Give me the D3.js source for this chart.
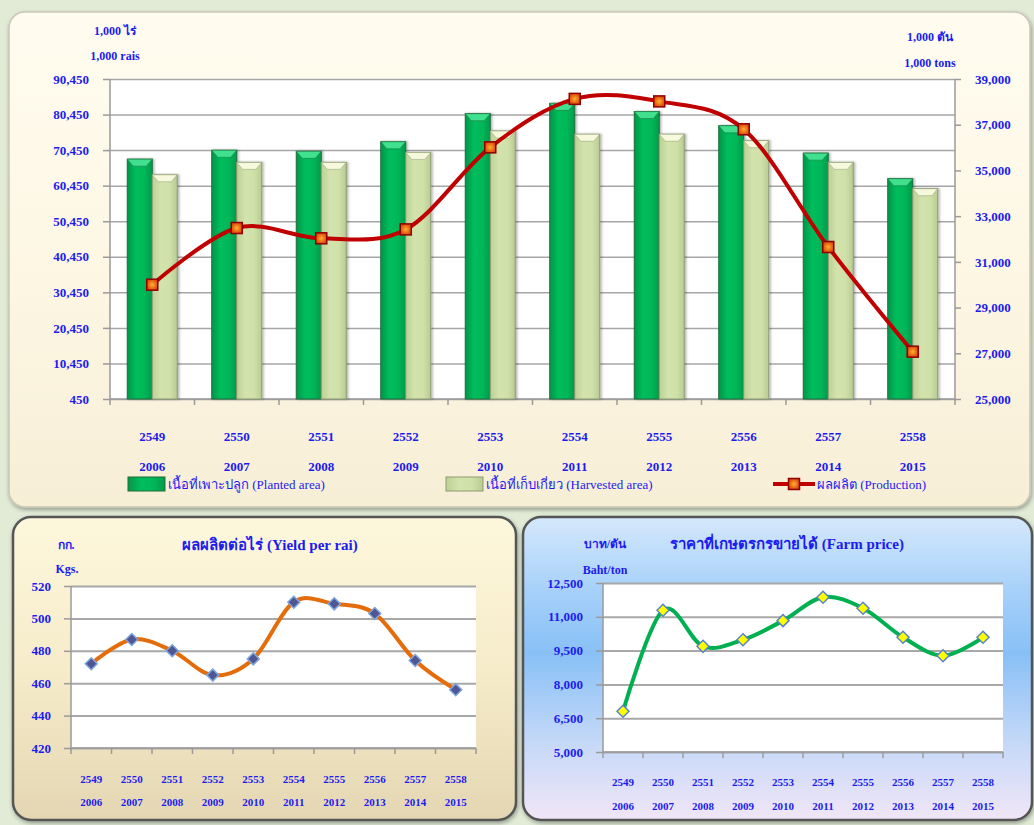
<!DOCTYPE html>
<html lang="th">
<head>
<meta charset="UTF-8">
<title>Planted area, harvested area, production, yield and farm price</title>
<script src="https://d3js.org/d3.v7.min.js"></script>
<style>
    body {
        margin: 0;
        padding: 0;
        background: #e1ebd6;
        overflow: hidden;
    }
    svg { display: block; }
    .lbl {
        font-family: "Liberation Serif", "Times New Roman", "DejaVu Serif", serif;
        font-weight: bold;
        fill: #1c1cf0;
    }
    .legend-text {
        font-family: "Liberation Serif", "Times New Roman", serif;
        font-size: 13px;
        fill: #1c1cf0;
    }
    .grid line { stroke: #a6a6a6; stroke-width: 1.5px; }
    .grid path { display: none; }
    .axis path, .axis line { stroke: #9a9a9a; stroke-width: 1.5px; }
    .axis text {
        font-family: "Liberation Serif", "Times New Roman", serif;
        font-weight: bold;
        fill: #1c1cf0;
    }
</style>
</head>
<body>
<script>
    // ---- data ----
    const beYears = ["2549", "2550", "2551", "2552", "2553", "2554", "2555", "2556", "2557", "2558"];
    const ceYears = ["2006", "2007", "2008", "2009", "2010", "2011", "2012", "2013", "2014", "2015"];

    const plantedArea   = [67900, 70400, 70100, 72800, 80700, 83600, 81300, 77300, 69600, 62400];
    const harvestedArea = [63500, 67000, 67000, 69800, 75800, 74900, 74900, 73100, 67000, 59600];
    const production    = [30000, 32480, 32030, 32420, 36010, 38130, 38020, 36800, 31650, 27070];

    const yieldPerRai = [472, 487, 480, 465, 475, 510, 509, 503, 474, 456];
    const farmPrice   = [6810, 11290, 9690, 9980, 10830, 11870, 11380, 10090, 9270, 10090];

    const areaTicks  = [450, 10450, 20450, 30450, 40450, 50450, 60450, 70450, 80450, 90450];
    const prodTicks  = [25000, 27000, 29000, 31000, 33000, 35000, 37000, 39000];
    const yieldTicks = [420, 440, 460, 480, 500, 520];
    const priceTicks = [5000, 6500, 8000, 9500, 11000, 12500];

    const width = 1034, height = 825;
    const fmt = d3.format(",");

    const svg = d3.select("body").append("svg")
        .attr("width", width)
        .attr("height", height);

    const defs = svg.append("defs");

    function linGrad(id, stops, vertical) {
        const g = defs.append("linearGradient").attr("id", id)
            .attr("x1", 0).attr("y1", 0)
            .attr("x2", vertical ? 0 : 1).attr("y2", vertical ? 1 : 0);
        stops.forEach(s => g.append("stop").attr("offset", s[0]).attr("stop-color", s[1]));
    }

    linGrad("topPanel", [[0, "#fffcf0"], [0.5, "#fdf7e4"], [1, "#f7eed6"]], true);
    linGrad("leftPanel", [[0, "#fdf7dc"], [0.5, "#f6ecca"], [1, "#e4d6b2"]], true);
    linGrad("rightPanel", [[0, "#d5e8fb"], [0.25, "#a5d0fa"], [0.45, "#88c0f6"], [0.75, "#c6d9f8"], [1, "#f1e6f7"]], true);
    linGrad("plantedGrad", [[0, "#07954a"], [0.35, "#00bd5c"], [0.7, "#00b658"], [1, "#049a4a"]], false);
    linGrad("harvestGrad", [[0, "#bdd095"], [0.35, "#d2e3ad"], [0.7, "#cfe0a8"], [1, "#b9cb92"]], false);

    const rg = defs.append("radialGradient").attr("id", "prodMarker");
    rg.append("stop").attr("offset", 0).attr("stop-color", "#ffb030");
    rg.append("stop").attr("offset", 1).attr("stop-color", "#dd4a08");

    const sh = defs.append("filter").attr("id", "shadow")
        .attr("x", "-10%").attr("y", "-10%").attr("width", "120%").attr("height", "120%");
    sh.append("feDropShadow").attr("dx", 1).attr("dy", 2).attr("stdDeviation", 2)
        .attr("flood-color", "#000").attr("flood-opacity", 0.35);

    const barShadow = defs.append("filter").attr("id", "barShadow")
        .attr("x", "-20%").attr("y", "-5%").attr("width", "150%").attr("height", "110%");
    barShadow.append("feDropShadow").attr("dx", 1.5).attr("dy", 0).attr("stdDeviation", 1.2)
        .attr("flood-color", "#000").attr("flood-opacity", 0.3);

    // ---- panels ----
    svg.append("rect").attr("x", 9).attr("y", 12).attr("width", 1021).attr("height", 495)
        .attr("rx", 16).attr("fill", "url(#topPanel)")
        .attr("stroke", "#c9c6b8").attr("stroke-width", 1.5).attr("filter", "url(#shadow)");
    svg.append("rect").attr("x", 13).attr("y", 517).attr("width", 503).attr("height", 303)
        .attr("rx", 18).attr("fill", "url(#leftPanel)")
        .attr("stroke", "#555").attr("stroke-width", 2.5).attr("filter", "url(#shadow)");
    svg.append("rect").attr("x", 523).attr("y", 517).attr("width", 509).attr("height", 303)
        .attr("rx", 18).attr("fill", "url(#rightPanel)")
        .attr("stroke", "#555").attr("stroke-width", 2.5).attr("filter", "url(#shadow)");

    function text(x, y, str, size, anchor, cls) {
        return svg.append("text").attr("class", cls || "lbl")
            .attr("x", x).attr("y", y).attr("dy", "0.35em")
            .attr("text-anchor", anchor || "middle")
            .style("font-size", size + "px").text(str);
    }

    // category labels below a band scale, plus boundary tick marks
    function categoryAxis(x, yBase, y1, y2, size) {
        const g = svg.append("g").attr("class", "axis");
        const edges = d3.range(beYears.length + 1).map(i => x.range()[0] + i * x.step());
        g.selectAll("line.tk").data(edges).enter().append("line")
            .attr("x1", d => d).attr("x2", d => d)
            .attr("y1", yBase).attr("y2", yBase + 6);
        g.append("line").attr("x1", x.range()[0]).attr("x2", x.range()[1])
            .attr("y1", yBase).attr("y2", yBase);
        beYears.forEach((b, i) => {
            const cx = x(b) + x.bandwidth() / 2;
            text(cx, y1, b, size);
            text(cx, y2, ceYears[i], size);
        });
    }

    // ================= TOP CHART =================
    const plot = { left: 110, right: 955, top: 79, bottom: 399 };
    const x1 = d3.scaleBand().domain(beYears).range([plot.left, plot.right]).padding(0);
    const yArea = d3.scaleLinear().domain([450, 90450]).range([plot.bottom, plot.top]);
    const yProd = d3.scaleLinear().domain([25000, 39000]).range([plot.bottom, plot.top]);

    svg.append("rect").attr("x", plot.left).attr("y", plot.top)
        .attr("width", plot.right - plot.left).attr("height", plot.bottom - plot.top)
        .attr("fill", "#fff");

    svg.append("g").attr("class", "grid")
        .attr("transform", `translate(${plot.left},0)`)
        .call(d3.axisLeft(yArea).tickValues(areaTicks).tickSize(-(plot.right - plot.left)).tickFormat(""));

    const axL = svg.append("g").attr("class", "axis")
        .attr("transform", `translate(${plot.left},0)`)
        .call(d3.axisLeft(yArea).tickValues(areaTicks).tickSize(7).tickPadding(14).tickFormat(fmt));
    axL.selectAll("text").style("font-size", "13px");
    axL.select(".domain").attr("d", `M0,${plot.top}V${plot.bottom}`);

    const axR = svg.append("g").attr("class", "axis")
        .attr("transform", `translate(${plot.right},0)`)
        .call(d3.axisRight(yProd).tickValues(prodTicks).tickSize(6).tickPadding(14).tickFormat(fmt));
    axR.selectAll("text").style("font-size", "13px");
    axR.select(".domain").attr("d", `M0,${plot.top}V${plot.bottom}`);

    categoryAxis(x1, plot.bottom, 436, 466, 13);

    // bars
    const bw = 25;
    function drawBars(values, offset, fill, stroke, bevel) {
        const g = svg.append("g");
        const b = g.selectAll("g.bar").data(values).enter().append("g")
            .attr("filter", "url(#barShadow)");
        b.append("rect")
            .attr("x", (d, i) => x1(beYears[i]) + x1.bandwidth() / 2 + offset)
            .attr("y", d => yArea(d))
            .attr("width", bw)
            .attr("height", d => plot.bottom - yArea(d))
            .attr("fill", fill)
            .attr("stroke", stroke).attr("stroke-width", 1);
        b.append("path")
            .attr("d", (d, i) => {
                const xl = x1(beYears[i]) + x1.bandwidth() / 2 + offset;
                const yt = yArea(d);
                return `M${xl},${yt}H${xl + bw}L${xl + bw - 6},${yt + 7}H${xl + 6}Z`;
            })
            .attr("fill", bevel).attr("stroke", stroke).attr("stroke-width", 0.5);
    }
    drawBars(plantedArea, -bw, "url(#plantedGrad)", "#1f6e3a", "#3fe08f");
    drawBars(harvestedArea, 0, "url(#harvestGrad)", "#8d9c72", "#f6f9dc");

    // production line
    const cx1 = (d, i) => x1(beYears[i]) + x1.bandwidth() / 2;
    svg.append("path").datum(production)
        .attr("fill", "none").attr("stroke", "#c00000").attr("stroke-width", 4)
        .attr("d", d3.line().x(cx1).y(d => yProd(d)).curve(d3.curveCardinal.tension(0)));
    svg.selectAll("rect.pm").data(production).enter().append("rect")
        .attr("class", "pm")
        .attr("x", (d, i) => cx1(d, i) - 5.5).attr("y", d => yProd(d) - 5.5)
        .attr("width", 11).attr("height", 11)
        .attr("fill", "url(#prodMarker)").attr("stroke", "#8e0000").attr("stroke-width", 1.5);

    // header units
    text(115, 31, "1,000 ไร่", 12);
    text(115, 56, "1,000 rais", 12);
    text(930, 37, "1,000 ตัน", 12);
    text(930, 63, "1,000 tons", 12);

    // legend
    const lg = svg.append("g");
    lg.append("rect").attr("x", 128).attr("y", 477).attr("width", 37).attr("height", 14)
        .attr("fill", "url(#plantedGrad)").attr("stroke", "#1f6e3a");
    lg.append("text").attr("class", "legend-text").attr("x", 168).attr("y", 484).attr("dy", "0.35em")
        .text("เนื้อที่เพาะปลูก  (Planted area)");
    lg.append("rect").attr("x", 446).attr("y", 477).attr("width", 37).attr("height", 14)
        .attr("fill", "url(#harvestGrad)").attr("stroke", "#8d9c72");
    lg.append("text").attr("class", "legend-text").attr("x", 486).attr("y", 484).attr("dy", "0.35em")
        .text("เนื้อที่เก็บเกี่ยว  (Harvested area)");
    lg.append("line").attr("x1", 773).attr("x2", 815).attr("y1", 484).attr("y2", 484)
        .attr("stroke", "#c00000").attr("stroke-width", 4);
    lg.append("rect").attr("x", 788.5).attr("y", 478.5).attr("width", 11).attr("height", 11)
        .attr("fill", "url(#prodMarker)").attr("stroke", "#8e0000").attr("stroke-width", 1.5);
    lg.append("text").attr("class", "legend-text").attr("x", 817).attr("y", 484).attr("dy", "0.35em")
        .text("ผลผลิต  (Production)");

    // ================= SMALL LINE CHARTS =================
    function smallChart(opt) {
        const x = d3.scaleBand().domain(beYears).range([opt.left, opt.right]).padding(0);
        const y = d3.scaleLinear().domain(opt.domain).range([opt.bottom, opt.top]);

        svg.append("rect").attr("x", opt.left).attr("y", opt.top)
            .attr("width", opt.right - opt.left).attr("height", opt.bottom - opt.top)
            .attr("fill", "#fff");

        svg.append("g").attr("class", "grid")
            .attr("transform", `translate(${opt.left},0)`)
            .call(d3.axisLeft(y).tickValues(opt.ticks).tickSize(-(opt.right - opt.left)).tickFormat(""))
            .selectAll("line").style("stroke-width", "2px").style("stroke", "#a8a8a8");

        const ax = svg.append("g").attr("class", "axis")
            .attr("transform", `translate(${opt.left},0)`)
            .call(d3.axisLeft(y).tickValues(opt.ticks).tickSize(7).tickPadding(13).tickFormat(fmt));
        ax.selectAll("text").style("font-size", "13px");
        ax.select(".domain").attr("d", `M0,${opt.top}V${opt.bottom}`);

        categoryAxis(x, opt.bottom, opt.catY[0], opt.catY[1], 11);

        const cx = (d, i) => x(beYears[i]) + x.bandwidth() / 2;
        svg.append("path").datum(opt.values)
            .attr("fill", "none").attr("stroke", opt.lineColor).attr("stroke-width", 4)
            .attr("d", d3.line().x(cx).y(d => y(d)).curve(d3.curveCardinal.tension(0)));
        svg.selectAll(null).data(opt.values).enter().append("path")
            .attr("transform", (d, i) => `translate(${cx(d, i)},${y(d)})`)
            .attr("d", "M0,-6L6,0L0,6L-6,0Z")
            .attr("fill", opt.markerFill).attr("stroke", opt.markerStroke).attr("stroke-width", 1.5);
    }

    smallChart({
        left: 71, right: 476, top: 586, bottom: 748,
        domain: [420, 520], ticks: yieldTicks, values: yieldPerRai,
        lineColor: "#e46c0a", markerFill: "#4f5694", markerStroke: "#7fa6dc",
        catY: [779, 802]
    });
    text(66, 545, "กก.", 12);
    text(270, 545, "ผลผลิตต่อไร่ (Yield per rai)", 15);
    text(67, 569, "Kgs.", 12);

    smallChart({
        left: 603, right: 1003, top: 583, bottom: 752,
        domain: [5000, 12500], ticks: priceTicks, values: farmPrice,
        lineColor: "#00b050", markerFill: "#ffff00", markerStroke: "#5b84c8",
        catY: [782, 806]
    });
    text(605, 544, "บาท/ตัน", 12);
    text(787, 544, "ราคาที่เกษตรกรขายได้ (Farm price)", 15);
    text(605, 570, "Baht/ton", 12);
</script>
</body>
</html>
